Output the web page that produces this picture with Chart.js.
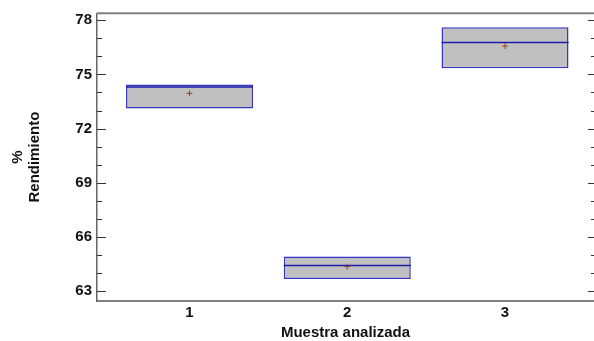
<!DOCTYPE html>
<html lang="es">
<head>
    <meta charset="UTF-8"/>
    <title>Rendimiento por muestra</title>
    <style>
        html, body {
            margin: 0;
            padding: 0;
            background: #fff;
            overflow: hidden;
        }

        #wrap {
            position: relative;
            width: 594px;
            height: 341px;
        }
    </style>
    <script src="https://cdn.jsdelivr.net/npm/chart.js@4/dist/chart.umd.min.js"></script>
</head>
<body>
<div id="wrap">
    <canvas id="chart"></canvas>
</div>

<script>
    // Data
    const samples = [1, 2, 3];
    const lowerQuartile = [73.12, 63.67, 75.35];
    const upperQuartile = [74.45, 64.92, 77.61];
    const medians = [74.30, 64.41, 76.77];
    const means = [73.95, 64.35, 76.57];
    const yTickStep = 1;
    const yLabelEvery = 3;

    const FONT = {family: "'Liberation Sans', Arial, sans-serif", size: 15, weight: 'bold', lineHeight: 1.1};
    const FRAME = '#808080';

    // inward tick marks on both sides + top frame line
    const frameTicks = {
        id: 'frameTicks',
        afterDraw(chart) {
            const {ctx, chartArea: a, scales: {y}} = chart;
            ctx.save();
            ctx.strokeStyle = FRAME;
            ctx.lineWidth = 2;
            ctx.beginPath();
            ctx.moveTo(a.left, a.top);
            ctx.lineTo(chart.width, a.top);
            ctx.stroke();

            ctx.strokeStyle = '#333';
            ctx.lineWidth = 1;
            y.ticks.forEach(t => {
                const py = Math.round(y.getPixelForValue(t.value)) + 0.5;
                const major = t.value % yLabelEvery === 0;
                ctx.beginPath();
                ctx.moveTo(a.left, py);
                ctx.lineTo(a.left + (major ? 9 : 5), py);
                ctx.moveTo(chart.width, py);
                ctx.lineTo(chart.width - (major ? 6 : 3), py);
                ctx.stroke();
            });
            ctx.restore();
        }
    };

    new Chart(document.getElementById('chart'), {
        type: 'bar',
        data: {
            datasets: [
                {
                    label: 'Medias',
                    type: 'line',
                    showLine: false,
                    data: samples.map((s, i) => ({x: s, y: means[i]})),
                    pointStyle: 'cross',
                    pointRadius: 3,
                    borderColor: '#a0401a',
                    borderWidth: 1,
                    order: 0
                },
                {
                    label: 'Medianas',
                    type: 'line',
                    showLine: false,
                    data: samples.map((s, i) => ({x: s, y: medians[i]})),
                    pointStyle: 'line',
                    pointRadius: 63.5,
                    borderColor: '#1c1ca8',
                    borderWidth: 1.5,
                    order: 1
                },
                {
                    label: 'Cuartiles',
                    data: samples.map((s, i) => ({x: s, y: [lowerQuartile[i], upperQuartile[i]]})),
                    backgroundColor: '#c0c0c0',
                    borderColor: '#3535c4',
                    borderWidth: 1.5,
                    borderSkipped: false,
                    barPercentage: 0.805,
                    categoryPercentage: 1,
                    order: 2
                }
            ]
        },
        options: {
            responsive: true,
            maintainAspectRatio: false,
            animation: false,
            events: [],
            layout: {autoPadding: false, padding: {top: 12, right: 0, bottom: 0, left: 0}},
            plugins: {
                legend: {display: false},
                tooltip: {enabled: false}
            },
            scales: {
                x: {
                    type: 'linear',
                    offset: false,
                    min: 0.4135,
                    max: 3.564,
                    grid: {display: false, drawTicks: false},
                    border: {display: true, color: FRAME, width: 2},
                    ticks: {
                        stepSize: 1,
                        includeBounds: false,
                        autoSkip: false,
                        maxRotation: 0,
                        padding: 4,
                        color: '#111',
                        font: FONT,
                        callback: v => samples.includes(v) ? String(v) : ''
                    },
                    title: {
                        display: true,
                        text: 'Muestra analizada',
                        color: '#111',
                        font: FONT,
                        padding: {top: 0, bottom: 0}
                    },
                    afterFit: s => { s.height = 40; }
                },
                y: {
                    min: 62.45,
                    max: 78.39,
                    grid: {display: false, drawTicks: false},
                    border: {display: true, color: '#666', width: 1.5},
                    ticks: {
                        stepSize: yTickStep,
                        includeBounds: false,
                        autoSkip: false,
                        padding: 5,
                        color: '#111',
                        font: FONT,
                        callback: v => v % yLabelEvery === 0 ? String(v) : ''
                    },
                    title: {
                        display: true,
                        text: ['%', 'Rendimiento'],
                        color: '#111',
                        font: FONT,
                        padding: {top: 10, bottom: 0}
                    },
                    afterFit: s => { s.width = 97; }
                }
            }
        },
        plugins: [frameTicks]
    });
</script>
</body>
</html>
